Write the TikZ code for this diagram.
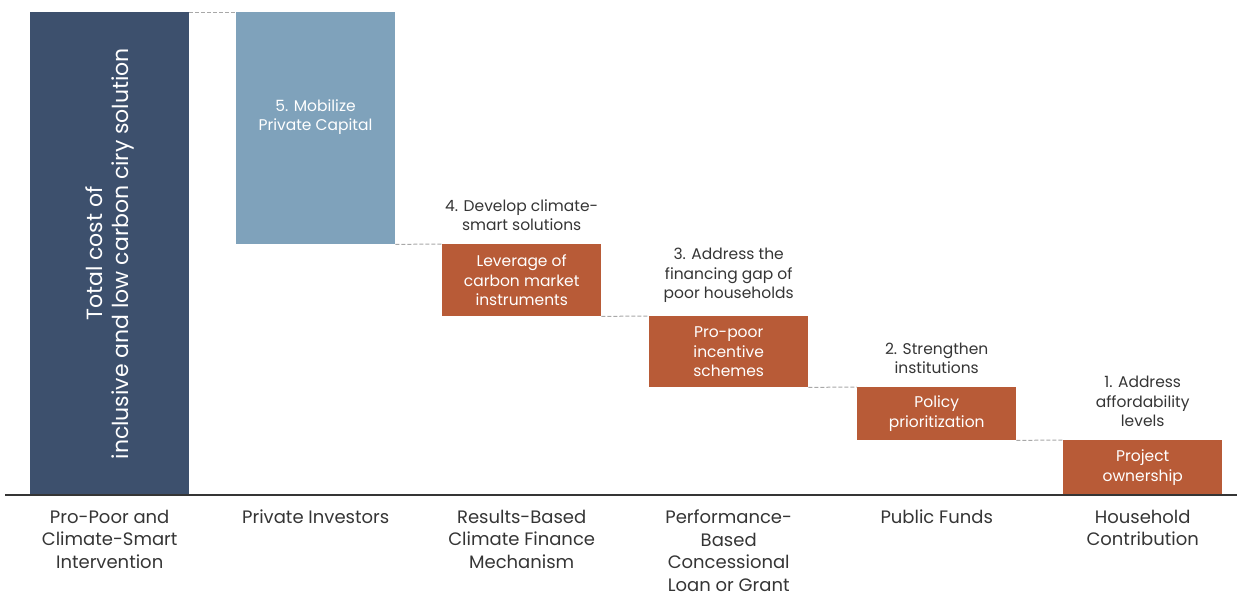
\documentclass[tikz,border=0pt]{standalone}
\usepackage{fontspec}
\setmainfont{Poppins}
\usetikzlibrary{positioning}
\definecolor{navy}{HTML}{3D506D}
\definecolor{steel}{HTML}{7FA2BB}
\definecolor{rust}{HTML}{B85B37}
\definecolor{ink}{HTML}{353535}
\definecolor{dashgray}{HTML}{A8A8A8}

\begin{document}
\begin{tikzpicture}[x=1pt, y=-1pt,
  bar/.style={rectangle, inner sep=0pt, minimum width=159pt, anchor=north west},
  boxtext/.style={text=white, align=center, font=\fontsize{15.5}{19.5}\selectfont},
  steptext/.style={text=ink, align=center, font=\fontsize{15.5}{19.5}\selectfont},
  axistext/.style={text=ink, align=center, font=\fontsize{18}{22.4}\selectfont, anchor=north, inner sep=1pt},
  link/.style={dashgray, dash pattern=on 4pt off 2pt, line width=1pt}]
\useasboundingbox (0,0) rectangle (1237,598);

% bars
\node[bar, fill=navy, minimum height=483pt] (total) at (30,12) {};
\node[bar, fill=steel, minimum height=232pt] (capital) at (236,12) {};
\node[bar, fill=rust, minimum height=72pt, boxtext] (carbon) at (442,244) {Leverage of\\carbon market\\instruments};
\node[bar, fill=rust, minimum height=71pt, boxtext] (incentive) at (649,316) {Pro-poor\\incentive\\schemes};
\node[bar, fill=rust, minimum height=53pt, boxtext] (policy) at (857,387) {Policy\\prioritization};
\node[bar, fill=rust, minimum height=55pt, boxtext] (ownership) at (1063,440) {Project\\ownership};

% texts on the blue bars
\node[rotate=90, text=white, align=center, font=\fontsize{22}{26}\selectfont] (totallabel) at (total.center) {Total cost of\\inclusive and low carbon ciry solution};
\node[boxtext] (capitallabel) at (315.5,117) {5. Mobilize\\Private Capital};

% steps above the boxes
\node[steptext, above=9.5pt of carbon] (develop) {4. Develop climate-\\smart solutions};
\node[steptext, above=9.5pt of incentive] (gap) {3. Address the\\financing gap of\\poor households};
\node[steptext, above=9.5pt of policy] (strengthen) {2. Strengthen\\institutions};
\node[steptext, above=9.5pt of ownership] (afford) {1. Address\\affordability\\levels};

% dashed links
\draw[link] (total.north east) -- (capital.north west);
\draw[link] (capital.south east) -- (carbon.north west);
\draw[link] (carbon.south east) -- (incentive.north west);
\draw[link] (incentive.south east) -- (policy.north west);
\draw[link] (policy.south east) -- (ownership.north west);

% axis
\coordinate (axisstart) at (5,495);
\coordinate (axisend) at (1237,495);
\draw[ink, line width=1.5pt] (axisstart) -- (axisend);

% sources below the axis
\coordinate (labelrow) at (0,509);
\node[axistext] (intervention) at (total.south |- labelrow) {Pro-Poor and\\Climate-Smart\\Intervention};
\node[axistext] (investors) at (capital.south |- labelrow) {Private Investors};
\node[axistext] (mechanism) at (carbon.south |- labelrow) {Results-Based\\Climate Finance\\Mechanism};
\node[axistext] (grant) at (incentive.south |- labelrow) {Performance-\\Based\\Concessional\\Loan or Grant};
\node[axistext] (funds) at (policy.south |- labelrow) {Public Funds};
\node[axistext] (household) at (ownership.south |- labelrow) {Household\\Contribution};
\end{tikzpicture}
\end{document}
